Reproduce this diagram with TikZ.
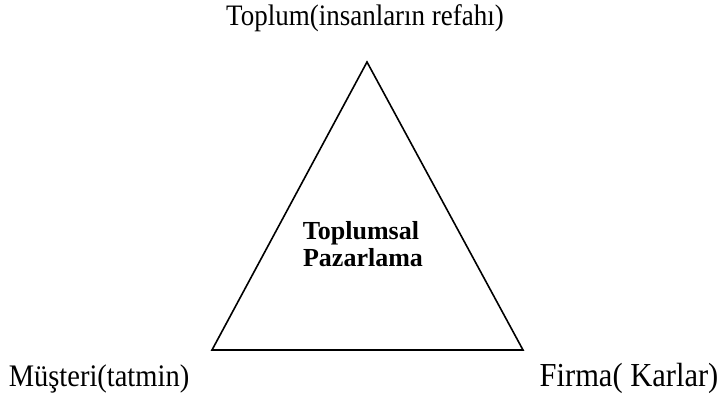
\documentclass[tikz,border=0pt]{standalone}
\usepackage{fontspec}
\setmainfont{Liberation Serif}
\usepackage{tikz}
\usetikzlibrary{calc}
\newcommand{\tallText}[1]{\scalebox{1}[1.1]{#1}}
\tikzset{corner label/.style={font=\fontsize{27}{30}\selectfont, inner sep=0pt, anchor=base},
center label/.style={font=\fontsize{26}{27}\selectfont\bfseries, inner sep=0pt, anchor=base}}

\begin{document}
\begin{tikzpicture}[x=1pt,y=-1pt]
\useasboundingbox (0,0) rectangle (728,396);
\coordinate (top) at (367,62);
\coordinate (left) at (212,350);
\coordinate (right) at (523,350);
\draw[line width=1.6pt, line join=miter] (top) -- (left) -- (right) -- cycle;
\node[corner label] (toplum) at (365,26) {\tallText{Toplum(insanların refahı)}};
\node[corner label, font=\fontsize{28.5}{30}\selectfont] (musteri) at (99,386) {\tallText{Müşteri(tatmin)}};
\node[corner label, font=\fontsize{30.5}{30}\selectfont] (firma) at (629,386) {\tallText{Firma( Karlar)}};
\node[center label] (tp1) at (361,239) {Toplumsal};
\node[center label] (tp2) at (363,266) {Pazarlama};
\end{tikzpicture}
\end{document}
